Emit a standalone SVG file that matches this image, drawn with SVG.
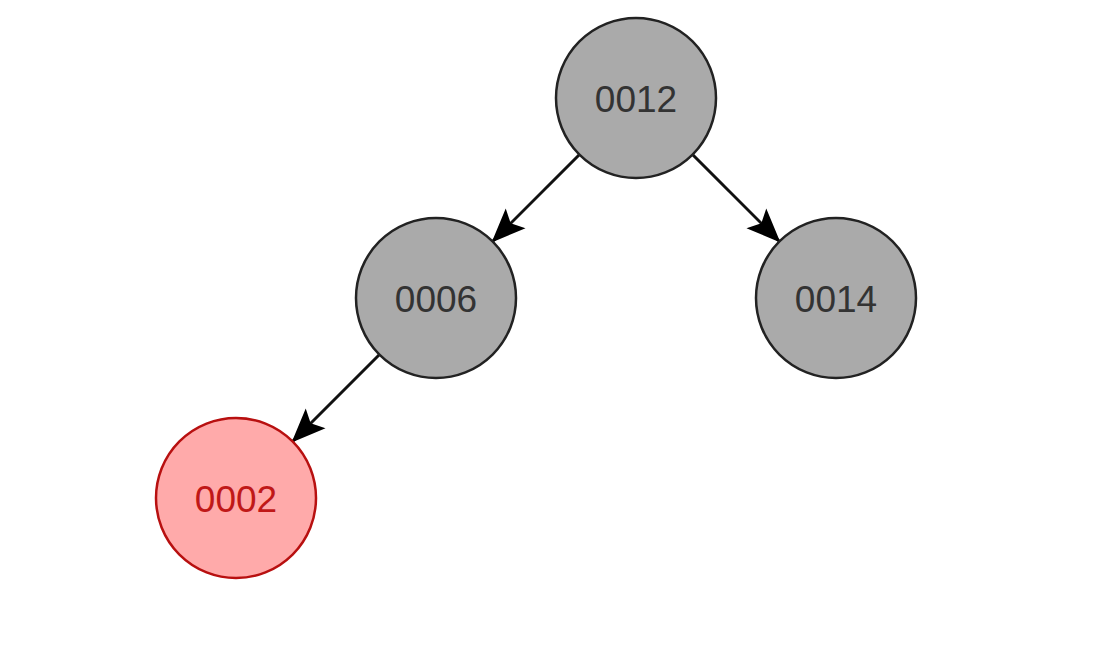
<svg xmlns="http://www.w3.org/2000/svg" width="1120" height="668" viewBox="0 0 1120 668">
<style>
.n circle{fill:#aaaaaa;stroke:#222;stroke-width:2.5}
.n text{font-family:"Liberation Sans",Arial,sans-serif;font-size:37px;fill:#333;text-anchor:middle}
.r circle{fill:#ffaaaa;stroke:#b81010}
.r text{fill:#c01818}
.e line{stroke:#111;stroke-width:3;marker-end:url(#ah)}
</style>
<defs>
<marker id="ah" markerUnits="userSpaceOnUse" markerWidth="34" markerHeight="34" viewBox="0 0 34 34" refX="32" refY="17" orient="auto">
<path d="M0,3 L34,17 L0,31 L7,17 Z" fill="#000"/>
</marker>
</defs>
<rect width="1120" height="668" fill="#fff"/>
<g class="e" id="edges">
<line x1="579" y1="155" x2="493" y2="241"/>
<line x1="693" y1="155" x2="779" y2="241"/>
<line x1="379" y1="355" x2="293" y2="441"/>
</g>
<g class="n" id="n12"><circle cx="636" cy="98" r="80"/><text x="636" y="112">0012</text></g>
<g class="n" id="n6"><circle cx="436" cy="298" r="80"/><text x="436" y="312">0006</text></g>
<g class="n" id="n14"><circle cx="836" cy="298" r="80"/><text x="836" y="312">0014</text></g>
<g class="n r" id="n2"><circle cx="236" cy="498" r="80"/><text x="236" y="512">0002</text></g>
</svg>
